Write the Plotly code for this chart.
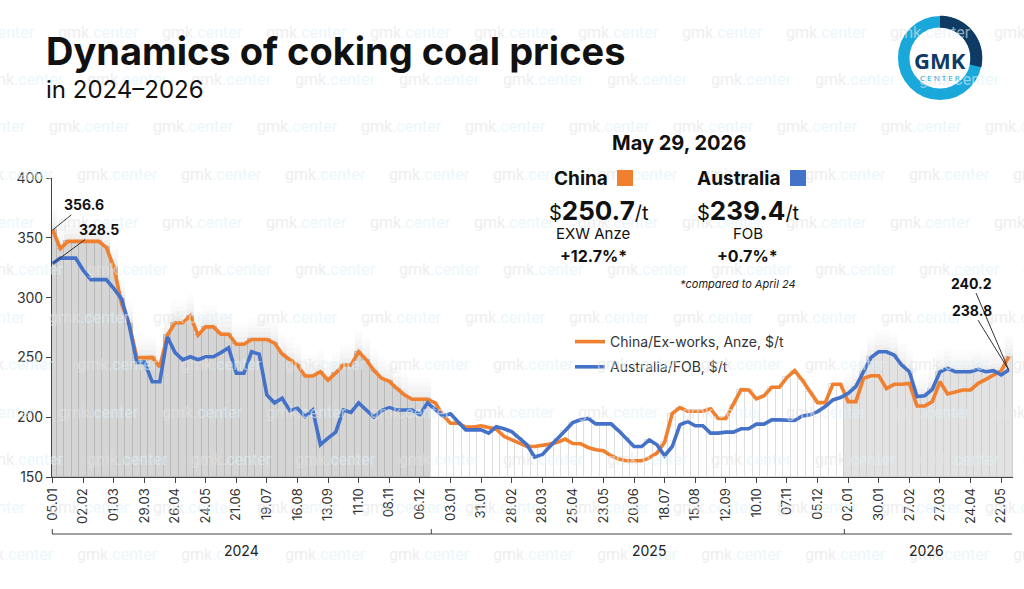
import plotly.graph_objects as go
import pandas as pd
import numpy as np

# ---------------- data ----------------
dates = pd.date_range("2024-01-05", "2026-05-29", freq="7D").strftime("%Y-%m-%d").tolist()

china = [356.6, 341, 347, 347, 347, 347, 347, 342, 325.6, 295,
         278, 249.7, 250, 250, 242, 268.6, 279, 279, 284.7, 268.6,
         275.5, 275.5, 269.4, 269.4, 261, 261, 265, 265, 265, 262,
         252.8, 248, 243.6, 234.4, 234.4, 238, 231, 237, 243.6, 243.6,
         254.7, 248, 239, 232.5, 230, 224, 218.6, 215, 215, 215,
         212, 202, 195, 195, 191.7, 191.7, 192.8, 191.7, 190, 184,
         181, 178, 175.5, 175.5, 176.4, 177.5, 179, 181.7, 178, 177.8,
         174.7, 172.8, 172, 167.8, 165, 163.6, 163.6, 163.6, 166, 170,
         179, 203, 208, 205, 205, 205, 207, 199, 199, 210.5,
         223, 222.8, 215.3, 218, 225, 225, 233.3, 238.9, 231, 221.4,
         212.2, 212.2, 227.5, 227.5, 213, 213, 232.5, 234.7, 234.7, 224,
         227.5, 227.5, 228.3, 209.4, 209.4, 213, 229.7, 219.4, 221.4, 222.8,
         222.8, 228.3, 231.7, 235.3, 238.8, 250.7]

australia = [328.5, 333, 333, 333, 322.8, 315, 315, 315, 307.5, 299,
             277, 245.8, 246, 229.7, 229.7, 267, 254, 248, 250.5, 248,
             250.5, 250.5, 254, 258, 236.7, 236.7, 254.7, 252.8, 218.6, 212,
             215.8, 205.5, 207.5, 200.5, 206, 177, 182.5, 187.5, 206, 204,
             212, 206, 200, 205.5, 208, 206, 206, 206, 202, 212,
             206.5, 201, 202.8, 196.4, 189.4, 189.4, 189.4, 186.7, 192, 190.3,
             188, 182.5, 177, 166.7, 168.6, 175.5, 181.7, 188.6, 195.5, 197.8,
             199, 194.4, 194.4, 194.4, 188.6, 182.5, 175.5, 175.5, 181, 177,
             167.8, 175.5, 193.6, 196.4, 192.8, 192.8, 186.7, 186.7, 187.5, 187.5,
             190.3, 190.3, 194.2, 194.2, 197.8, 197.8, 197.8, 197.2, 201, 202,
             204.7, 208.9, 214.4, 216.4, 220, 225.6, 238, 250, 254.7, 254.7,
             252, 243.6, 238, 217.2, 218, 223.3, 238, 240.8, 238, 238,
             238, 240, 238, 238.9, 235.3, 239.4]

tick_labels = ["05.01", "02.02", "01.03", "29.03", "26.04", "24.05", "21.06", "19.07",
               "16.08", "13.09", "11.10", "08.11", "06.12", "03.01", "31.01", "28.02",
               "28.03", "25.04", "23.05", "20.06", "18.07", "15.08", "12.09", "10.10",
               "07.11", "05.12", "02.01", "30.01", "27.02", "27.03", "24.04", "22.05"]
year_labels = ["2024", "2025", "2026"]
shade_1_end = "2024-12-13"      # last shaded week of the first block
shade_2_start = "2026-01-02"    # first shaded week of the last block

ORANGE = "#F07F2E"
BLUE = "#4472C9"

# ---------------- geometry helpers ----------------
W, H = 1024, 589
L, R, T, B = 52, 11, 178, 112
PW, PH = W - L - R, H - T - B
XR = [-0.09, 125.55]
YR = [150, 400]


def px(xp):
    return (xp - L) / PW


def py(yp):
    return (H - B - yp) / PH


def ix(i):
    return (i - XR[0]) / (XR[1] - XR[0])


fig = go.Figure()

top = [max(c, a) for c, a in zip(china, australia)]
grp1 = [(d, t) for d, t in zip(dates, top) if d <= shade_1_end]
grp2 = [(d, t) for d, t in zip(dates, top) if shade_1_end < d < shade_2_start]
grp3 = [(d, t) for d, t in zip(dates, top) if d >= shade_2_start]

# soft halo above shaded blocks
for extra, alpha in [(18, 0.010), (14, 0.013), (10, 0.016), (6, 0.02), (3, 0.024)]:
    for g in (grp1, grp3):
        fig.add_trace(go.Bar(x=[d for d, _ in g], y=[t + extra - 150 for _, t in g], base=150,
                             width=1.0, marker=dict(color=f"rgba(0,0,0,{alpha})", line=dict(width=0)),
                             showlegend=False, hoverinfo="skip"))

fig.add_trace(go.Bar(x=[d for d, _ in grp1], y=[t - 150 for _, t in grp1], base=150, width=1.0,
                     marker=dict(color="#d5d5d5", line=dict(color="#b9b9b9", width=1)),
                     showlegend=False, hoverinfo="skip"))
fig.add_trace(go.Bar(x=[d for d, _ in grp2], y=[t - 150 for _, t in grp2], base=150, width=1.0,
                     marker=dict(color="#ffffff", line=dict(color="#dedede", width=1)),
                     showlegend=False, hoverinfo="skip"))
fig.add_trace(go.Bar(x=[d for d, _ in grp3], y=[t - 150 for _, t in grp3], base=150, width=1.0,
                     marker=dict(color="#e2e2e2", line=dict(color="#cfcfcf", width=1)),
                     showlegend=False, hoverinfo="skip"))

fig.add_trace(go.Scatter(x=dates, y=china, mode="lines", name="China/Ex-works, Anze, $/t",
                         line=dict(color=ORANGE, width=3.6), legendgroup="a"))
fig.add_trace(go.Scatter(x=dates, y=australia, mode="lines", name="Australia/FOB, $/t",
                         line=dict(color=BLUE, width=3.6), legendgroup="b"))

FONT = "Inter"
ann = []
shapes = []

# watermark grid
offsets = [56, 85, 47, 75]
for k in range(12):
    yy = 32 + 47.5 * k
    xx = offsets[k % 4] - 104
    while xx < W:
        ann.append(dict(xref="paper", yref="paper", x=px(xx), y=py(yy), xanchor="left", yanchor="middle",
                        text="gmk<span style='color:#dff2f9'>.center</span>",
                        showarrow=False, opacity=0.6,
                        font=dict(family="Roboto", size=16, color="#e4e4e4")))
        xx += 104

# title
ann.append(dict(xref="paper", yref="paper", x=px(44), y=py(51), xanchor="left", yanchor="middle",
                text="<b>Dynamics of coking coal prices</b>", showarrow=False,
                font=dict(family=FONT, size=38, color="#111111")))
ann.append(dict(xref="paper", yref="paper", x=px(44), y=py(90), xanchor="left", yanchor="middle",
                text="in 2024–2026", showarrow=False,
                font=dict(family=FONT, size=24, color="#111111")))


def txt(x, y, s, size, bold=False, color="#111111", italic=False, anchor="center"):
    if bold:
        s = f"<b>{s}</b>"
    if italic:
        s = f"<i>{s}</i>"
    ann.append(dict(xref="paper", yref="paper", x=px(x), y=py(y), xanchor=anchor, yanchor="middle",
                    text=s, showarrow=False, font=dict(family=FONT, size=size, color=color)))


def square(xc, yc, color):
    ann.append(dict(xref="paper", yref="paper", x=px(xc), y=py(yc), xanchor="center", yanchor="middle",
                    text=" ", showarrow=False, width=14, height=14, bgcolor=color, borderpad=1,
                    borderwidth=0, font=dict(size=10)))


txt(679, 143, "May 29, 2026", 20, bold=True)
txt(610, 178, "China", 19, bold=True, anchor="right")
txt(782, 178, "Australia", 19, bold=True, anchor="right")
square(625, 178, ORANGE)
square(798, 178, BLUE)
txt(599, 210, "$<b><span style='font-size:26px'>250.7</span></b>/t", 20)
txt(748, 210, "$<b><span style='font-size:26px'>239.4</span></b>/t", 20)
txt(593, 233, "EXW Anze", 15)
txt(748, 233, "FOB", 15)
txt(593, 256, "+12.7%*", 16, bold=True)
txt(747, 256, "+0.7%*", 16, bold=True)
txt(738, 284, "*compared to April 24", 11, italic=True, color="#222222")


def callout(xd, yd, s, ax, ay):
    ann.append(dict(x=xd, y=yd, xref="x", yref="y", text=f"<b>{s}</b>", showarrow=True, arrowhead=0,
                    arrowwidth=1, arrowcolor="#333333", ax=ax, ay=ay,
                    font=dict(family=FONT, size=14, color="#111111")))


callout(dates[0], china[0], "356.6", 31, -25)
callout(dates[0], australia[0], "328.5", 46, -34)
callout(dates[-1], australia[-1], "240.2", -37, -87)
callout(dates[-1], australia[-1], "238.8", -37, -60)

# year bracket
yb = py(534)
shapes.append(dict(type="line", xref="paper", yref="paper", x0=ix(-0.09), x1=ix(125.4), y0=yb, y1=yb,
                   line=dict(color="#444444", width=1)))
for b in (-0.05, 49.5, 103.5):
    shapes.append(dict(type="line", xref="paper", yref="paper", x0=ix(b), x1=ix(b), y0=yb, y1=py(529),
                       line=dict(color="#444444", width=1)))
for lab, c in zip(year_labels, (24.7, 78, 114.3)):
    ann.append(dict(xref="paper", yref="paper", x=ix(c), y=py(550), xanchor="center", yanchor="middle",
                    text=lab, showarrow=False, font=dict(family=FONT, size=14, color="#222222")))

# logo
cx, cy = 940, 58
shapes.append(dict(type="circle", xref="paper", yref="paper", xsizemode="pixel", ysizemode="pixel",
                   xanchor=px(cx), yanchor=py(cy), x0=-36.3, x1=36.3, y0=-36.3, y1=36.3,
                   line=dict(color="#1AA8DA", width=11.5), fillcolor="white"))
ang = np.linspace(np.pi / 2, -0.22, 30)
pts = [(42.3 * np.cos(a), 42.3 * np.sin(a)) for a in ang] + [(30.3 * np.cos(a), 30.3 * np.sin(a)) for a in ang[::-1]]
path = "M " + " L ".join(f"{x:.2f},{y:.2f}" for x, y in pts) + " Z"
shapes.append(dict(type="path", xref="paper", yref="paper", xsizemode="pixel", ysizemode="pixel",
                   xanchor=px(cx), yanchor=py(cy), path=path, fillcolor="#0E3A63", line=dict(width=0)))
ann.append(dict(xref="paper", yref="paper", x=px(cx), y=py(60), xanchor="center", yanchor="middle",
                text="<b>GMK</b>", showarrow=False, font=dict(family="Open Sans", size=22, color="#0E3A63")))
ann.append(dict(xref="paper", yref="paper", x=px(cx), y=py(77), xanchor="center", yanchor="middle",
                text="C E N T E R", showarrow=False, font=dict(family="Open Sans", size=8, color="#1AA8DA")))

fig.update_layout(
    width=W, height=H, margin=dict(l=L, r=R, t=T, b=B, pad=0),
    paper_bgcolor="white", plot_bgcolor="white",
    barmode="overlay", bargap=0,
    font=dict(family=FONT, color="#333333"),
    showlegend=True,
    legend=dict(x=px(570), y=py(326), xanchor="left", yanchor="top", bgcolor="rgba(0,0,0,0)",
                font=dict(family=FONT, size=14, color="#333333"), traceorder="grouped", tracegroupgap=4,
                itemwidth=30),
    annotations=ann, shapes=shapes,
    xaxis=dict(type="category", categoryorder="array", categoryarray=dates, range=XR,
               tickmode="array", tickvals=dates[::4], ticktext=tick_labels,
               tickangle=-90, ticks="outside", ticklen=5, tickcolor="#444444", showline=True,
               linecolor="#444444", linewidth=1, showgrid=False, zeroline=False,
               tickfont=dict(family=FONT, size=13, color="#333333")),
    yaxis=dict(range=YR, tickvals=[150, 200, 250, 300, 350, 400], ticks="outside", ticklen=5,
               tickcolor="#444444", showline=True, linecolor="#444444", linewidth=1, showgrid=False,
               zeroline=False, tickfont=dict(family=FONT, size=14, color="#333333")),
)

fig.write_html("out.html")
